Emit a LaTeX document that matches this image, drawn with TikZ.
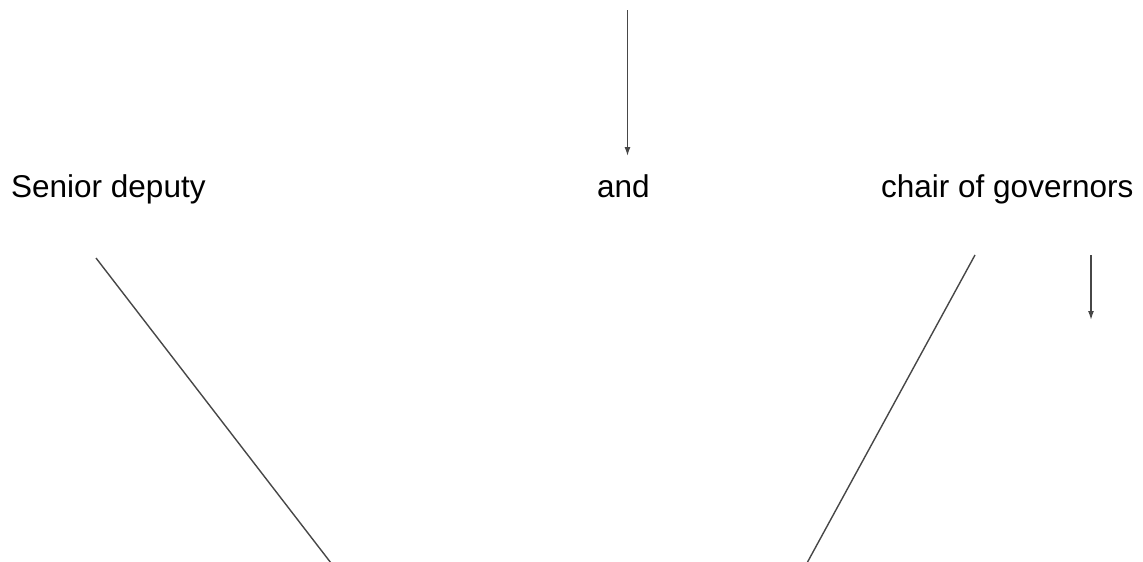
\documentclass[tikz,border=0pt]{standalone}
\usepackage{fontspec}
\setmainfont{Liberation Sans}
\usetikzlibrary{arrows.meta}
\tikzset{
    orglabel/.style={inner sep=0pt, anchor=base west, font=\fontsize{31.5}{38}\selectfont},
    orgedge/.style={line width=1.4pt, draw=black!72},
    orgarrow/.style={orgedge, -{Latex[length=9pt,width=6pt]}}
}

\begin{document}
\begin{tikzpicture}[x=1pt, y=-1pt]
    \useasboundingbox (0,0) rectangle (1143,562);
    % labels
    \node[orglabel] (senior) at (11,197) {Senior deputy};
    \node[orglabel] (and) at (597,197) {and};
    \node[orglabel] (chair) at (881,197) {chair of governors};
    % free ends
    \coordinate (topstart) at (627.5,10);
    \coordinate (topend) at (627.5,156);
    \coordinate (rightstart) at (1091,255);
    \coordinate (rightend) at (1091,320);
    \coordinate (lefttop) at (96,258);
    \coordinate (leftbottom) at (331,563);
    \coordinate (midtop) at (975,255);
    \coordinate (midbottom) at (807,563);
    \draw[orgarrow] (topstart)--(topend);
    \draw[orgarrow] (rightstart)--(rightend);
    \draw[orgedge] (lefttop)--(leftbottom);
    \draw[orgedge] (midtop)--(midbottom);
\end{tikzpicture}
\end{document}
